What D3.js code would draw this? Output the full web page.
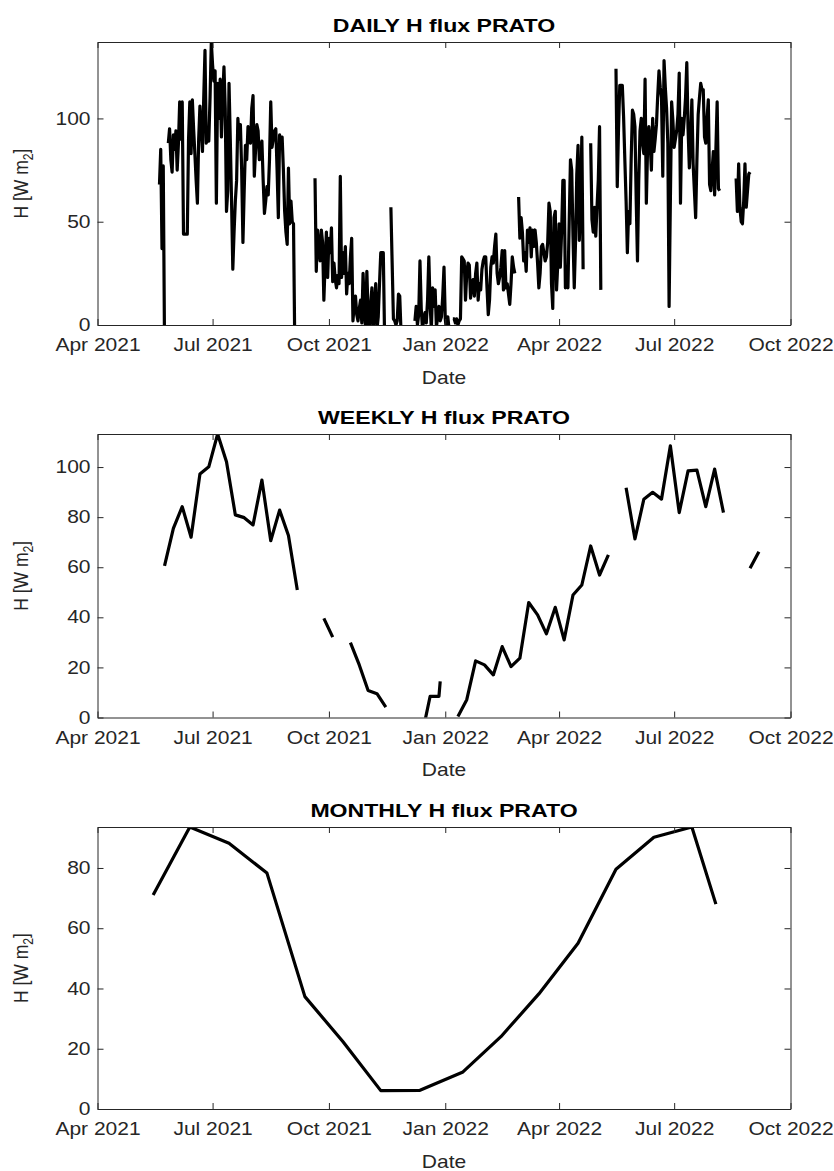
<!DOCTYPE html>
<html>
<head>
<meta charset="utf-8">
<script src="https://cdn.jsdelivr.net/npm/d3@7"></script>
<style>
  html, body { margin: 0; padding: 0; background: #ffffff; }
  svg { display: block; font-family: "Liberation Sans", Arial, Helvetica, sans-serif; }
</style>
</head>
<body>
<svg id="fig" width="834" height="1171"></svg>
<script>
// ---- x axis ticks (quarterly) ----
const xTickDates = ["2021-04-01", "2021-07-01", "2021-10-01", "2022-01-01", "2022-04-01", "2022-07-01", "2022-10-01"];

// ---- daily H flux, one value per day from dailyStart (null = missing) ----
const dailyStart = "2021-05-20";
const dailyValues = [
  68, 85, 37, 77, -10, null, null, 88, 95, 80,
  74, 92, 85, 94, 75, 88, 108, 90, 108, 44,
  44, 44, 44, 90, 108, 83, 109, 95, 83, 70,
  59, 90, 106, 95, 84, 110, 133, 88, 95, 89,
  110, 137, 126, 118, 123, 59, 117, 100, 119, 91,
  110, 125, 105, 55, 65, 117, 90, 60, 27, 45,
  60, 70, 100, 90, 97, 75, 40, 65, 87, 80,
  96, 92, 88, 105, 111, 72, 85, 97, 94, 80,
  85, 89, 70, 54, 60, 67, 63, 80, 108, 86,
  90, 94, 95, 75, 52, 92, 88, 91, 75, 55,
  45, 39, 76, 49, 60, 50, 49, -10, null, null,
  null, null, null, null, null, null, null, null, null, null,
  null, null, null, 71, 26, 46, 38, 31, 46, 40,
  12, 30, 45, 23, 42, 35, 47, 21, 30, 22,
  18, 24, 20, 72, 23, 35, 25, 38, 15, 25,
  20, 33, 42, 2, 10, 14, 5, 2, 8, 12,
  1, 25, 8, -2, 26, 5, -3, 10, 18, -3,
  8, 20, -2, 4, 20, 35, 35, 35, -5, null,
  null, null, null, 57, 30, 3, 2, 0, 2, 15,
  14, -3, null, null, null, null, null, null, null, null,
  null, null, 2, 9, 0, 5, 31, 8, -2, 3,
  6, 1, 12, 33, 10, -2, 18, 9, 17, -1,
  4, 9, 2, 4, 14, 28, 3, -3, 4, -2,
  null, null, 3, 3, 1, 3, 0, 2, 3, 33,
  32, 31, 12, 25, 30, 29, 13, 20, 22, 14,
  25, 30, 12, 20, 17, 27, 31, 33, 33, 18,
  5, 12, 28, 33, 30, 38, 44, 25, 20, 23,
  28, 36, 17, 36, 18, 20, 15, 10, 20, 33,
  28, 25, null, null, 62, 42, 52, 45, 31, 35,
  26, 46, 40, 47, 33, 46, 38, 46, 40, 30,
  18, 25, 38, 39, 35, 31, 33, 40, 59, 55,
  20, 8, 52, 55, 17, 30, 49, 28, 45, 70,
  70, 18, 25, 18, 50, 80, 75, 43, 18, 40,
  73, 87, 41, 60, 91, 27, null, null, null, null,
  null, 88, 51, 45, 57, 43, 57, 70, 96, 17,
  null, null, null, null, null, null, null, null, null, null,
  null, 124, 67, 95, 116, 116, 116, 101, 80, 60,
  35, 55, 49, 80, 104, 102, 96, 60, 31, 70,
  94, 100, 88, 83, 119, 59, 86, 96, 88, 75,
  100, 84, 90, 97, 111, 123, 115, 110, 72, 128,
  115, 105, 88, 9, 60, 108, 99, 86, 90, 94,
  102, 122, 59, 100, 92, 100, 110, 127, 95, 76,
  90, 109, 78, 65, 52, 80, 102, 110, 117, 114,
  114, 91, 88, 100, 109, 68, 65, 75, 84, 63,
  85, 108, 66, 65, null, null, null, null, null, null,
  null, null, null, null, null, null, 71, 55, 78, 57,
  50, 49, 60, 78, 57, 65, 73, 74
];

// ---- weekly means ----
const weeklyDates = [
  "2021-05-24", "2021-05-31", "2021-06-07", "2021-06-14", "2021-06-21", "2021-06-28",
  "2021-07-05", "2021-07-12", "2021-07-19", "2021-07-26", "2021-08-02", "2021-08-09",
  "2021-08-16", "2021-08-23", "2021-08-30", "2021-09-06", "2021-09-13", "2021-09-20",
  "2021-09-27", "2021-10-04", "2021-10-11", "2021-10-18", "2021-10-25", "2021-11-01",
  "2021-11-08", "2021-11-15", "2021-11-22", "2021-11-29", "2021-12-06", "2021-12-13",
  "2021-12-20", "2021-12-27", "2021-12-28", "2022-01-04", "2022-01-11", "2022-01-18",
  "2022-01-25", "2022-02-01", "2022-02-08", "2022-02-15", "2022-02-22", "2022-03-01",
  "2022-03-08", "2022-03-15", "2022-03-22", "2022-03-29", "2022-04-05", "2022-04-12",
  "2022-04-19", "2022-04-26", "2022-05-03", "2022-05-10", "2022-05-17", "2022-05-24",
  "2022-05-31", "2022-06-07", "2022-06-14", "2022-06-21", "2022-06-28", "2022-07-05",
  "2022-07-12", "2022-07-19", "2022-07-26", "2022-08-02", "2022-08-09", "2022-08-16",
  "2022-08-23", "2022-08-30", "2022-09-06"
];
const weeklyValues = [
  60.5, 75.5, 84.2, 72.0, 97.2, 100.1,
  113.2, 102.1, 80.9, 79.8, 76.9, 94.8,
  70.6, 82.8, 72.7, 50.9, null, null,
  39.6, 32.1, null, 29.9, 21.0, 10.8,
  9.5, 4.1, null, null, null, -8.4,
  8.4, 8.4, 14.4, null, 0.4, 7.1,
  22.6, 21.0, 17.0, 28.3, 20.3, 23.7,
  45.9, 41.0, 33.4, 44.0, 31.0, 48.9,
  52.9, 68.5, 56.9, 64.9, null, 91.7,
  71.3, 87.1, 89.9, 87.2, 108.5, 81.8,
  98.5, 98.8, 84.2, 99.2, 81.8, null,
  null, 59.6, 66.2
];

// ---- monthly means ----
const monthlyDates = [
  "2021-05-15", "2021-06-13", "2021-07-14", "2021-08-13", "2021-09-12", "2021-10-12",
  "2021-11-11", "2021-12-12", "2022-01-15", "2022-02-14", "2022-03-16", "2022-04-16",
  "2022-05-16", "2022-06-15", "2022-07-15", "2022-08-03"
];
const monthlyValues = [
  71.0, 93.6, 88.2, 78.3, 37.3, 22.4,
  6.1, 6.2, 12.3, 24.0, 38.2, 55.0,
  79.6, 90.2, 93.6, 68.0
];

const dailyTicks = [0, 50, 100];
const weeklyTicks = [0, 20, 40, 60, 80, 100];
const monthlyTicks = [0, 20, 40, 60, 80];
const panelTitles = ["DAILY H flux PRATO", "WEEKLY H flux PRATO", "MONTHLY H flux PRATO"];

// ---- layout ----
const parse = d3.utcParse("%Y-%m-%d");
const svg = d3.select("#fig");
const plotLeft = 97.5, plotRight = 790.5;
const axisColor = "#262626";
const fontSize = 17.5;     // tick and axis labels
const titleSize = 19.25;   // titles are 1.1x
const widen = 1.2;         // horizontal glyph scale of the figure text

const dailyDates = dailyValues.map((_, i) => d3.utcDay.offset(parse(dailyStart), i));

const panels = [
  { title: panelTitles[0], dates: dailyDates, values: dailyValues, ticks: dailyTicks, top: 42, bottom: 325 },
  { title: panelTitles[1], dates: weeklyDates.map(parse), values: weeklyValues, ticks: weeklyTicks, top: 434, bottom: 717.5 },
  { title: panelTitles[2], dates: monthlyDates.map(parse), values: monthlyValues, ticks: monthlyTicks, top: 827, bottom: 1109 }
];

const x = d3.scaleUtc()
  .domain([parse("2021-04-01"), parse("2022-10-01")])
  .range([plotLeft, plotRight]);

// widen a text element horizontally about its own anchor x
function widenAbout(sel) {
  sel.attr("transform", function () {
    const ax = +(this.getAttribute("x") || 0);
    return `translate(${ax},0) scale(${widen},1) translate(${-ax},0)`;
  });
}

function styleAxis(g) {
  g.attr("font-family", null).attr("font-size", null);
  g.selectAll("path.domain").attr("stroke", axisColor).attr("stroke-width", 1);
  g.selectAll(".tick line").attr("stroke", axisColor).attr("stroke-width", 1);
  g.selectAll(".tick text").attr("fill", axisColor).style("font-size", fontSize + "px").call(widenAbout);
}

panels.forEach((p, i) => {
  const y = d3.scaleLinear().domain([0, d3.max(p.values)]).range([p.bottom, p.top]);
  const g = svg.append("g");
  const cx = (plotLeft + plotRight) / 2;

  const clipId = "plot-clip-" + i;
  svg.append("clipPath").attr("id", clipId)
    .append("rect")
    .attr("x", plotLeft).attr("y", p.top)
    .attr("width", plotRight - plotLeft).attr("height", p.bottom - p.top);

  const rows = p.dates.map((d, k) => ({ date: d, value: p.values[k] }));
  const line = d3.line()
    .defined(d => d.value !== null)
    .x(d => x(d.date))
    .y(d => y(d.value));

  g.append("path")
    .datum(rows)
    .attr("clip-path", `url(#${clipId})`)
    .attr("d", line)
    .attr("fill", "none")
    .attr("stroke", "#000")
    .attr("stroke-width", 3.2)
    .attr("stroke-linejoin", "round");

  const xt = xTickDates.map(parse);

  // bottom axis with labels, ticks pointing inward
  g.append("g")
    .attr("transform", `translate(0,${p.bottom})`)
    .call(d3.axisBottom(x).tickValues(xt).tickFormat(d3.utcFormat("%b %Y"))
      .tickSizeInner(-6).tickSizeOuter(0).tickPadding(14))
    .call(styleAxis);

  // top edge of the box
  g.append("g")
    .attr("transform", `translate(0,${p.top})`)
    .call(d3.axisTop(x).tickValues(xt).tickFormat("").tickSizeInner(-6).tickSizeOuter(0))
    .call(styleAxis);

  // left axis with labels
  g.append("g")
    .attr("transform", `translate(${plotLeft},0)`)
    .call(d3.axisLeft(y).tickValues(p.ticks).tickFormat(d3.format("d"))
      .tickSizeInner(-6).tickSizeOuter(0).tickPadding(7))
    .call(styleAxis);

  // right edge of the box
  g.append("g")
    .attr("transform", `translate(${plotRight},0)`)
    .call(d3.axisRight(y).tickValues(p.ticks).tickFormat("").tickSizeInner(-6).tickSizeOuter(0))
    .call(styleAxis);

  // title
  g.append("text")
    .attr("x", cx)
    .attr("y", p.top - 10)
    .attr("text-anchor", "middle")
    .attr("font-weight", "bold")
    .attr("font-size", titleSize)
    .attr("fill", "#000")
    .text(p.title)
    .call(widenAbout);

  // x label
  g.append("text")
    .attr("x", cx)
    .attr("y", p.bottom + 59)
    .attr("text-anchor", "middle")
    .attr("font-size", fontSize)
    .attr("fill", axisColor)
    .text("Date")
    .call(widenAbout);

  // y label with subscript
  const yl = g.append("text")
    .attr("transform", `translate(28,${(p.top + p.bottom) / 2}) scale(${widen},1) rotate(-90)`)
    .attr("text-anchor", "middle")
    .attr("font-size", fontSize)
    .attr("fill", axisColor);
  yl.append("tspan").text("H [W m");
  yl.append("tspan").attr("font-size", fontSize * 0.7).attr("dy", 4).text("2");
  yl.append("tspan").attr("dy", -4).text("]");
});
</script>
</body>
</html>
